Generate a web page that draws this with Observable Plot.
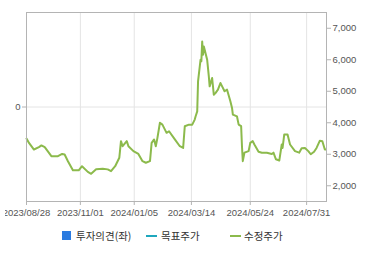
<!DOCTYPE html>
<html><head><meta charset="utf-8">
<script src="https://cdn.jsdelivr.net/npm/d3@7"></script>
<script src="https://cdn.jsdelivr.net/npm/@observablehq/plot@0.6"></script>
<style>
body{margin:0;background:#fff;}
#wrap{position:relative;width:370px;height:255px;overflow:hidden;}
#chart{position:absolute;left:0;top:0;}
#clip{position:absolute;left:0;top:204px;width:5px;height:16px;background:#fff;}
#legend{position:absolute;left:0;top:227px;width:370px;height:18px;font-family:"Noto Sans CJK KR","Noto Sans",sans-serif;font-size:10.5px;color:#333;}
.item{position:absolute;top:0;height:18px;line-height:18px;white-space:nowrap;}
.sw{position:absolute;}
</style></head>
<body><div id="wrap"><div id="chart"></div><div id="clip"></div><div id="legend"></div></div>
<script>
const dates = ["2023-08-28","2023-08-31","2023-09-06","2023-09-12","2023-09-15","2023-09-19","2023-09-25","2023-09-27","2023-10-05","2023-10-10","2023-10-13","2023-10-17","2023-10-23","2023-10-30","2023-11-03","2023-11-10","2023-11-14","2023-11-20","2023-11-28","2023-12-04","2023-12-08","2023-12-13","2023-12-18","2023-12-20","2023-12-22","2023-12-27","2023-12-29","2024-01-04","2024-01-10","2024-01-15","2024-01-19","2024-01-24","2024-01-26","2024-01-29","2024-01-31","2024-02-02","2024-02-05","2024-02-08","2024-02-13","2024-02-16","2024-02-23","2024-02-29","2024-03-04","2024-03-06","2024-03-11","2024-03-15","2024-03-18","2024-03-19","2024-03-21","2024-03-22","2024-03-25","2024-03-26","2024-03-27","2024-03-28","2024-03-29","2024-04-02","2024-04-04","2024-04-05","2024-04-08","2024-04-10","2024-04-12","2024-04-15","2024-04-18","2024-04-19","2024-04-23","2024-04-26","2024-04-30","2024-05-02","2024-05-03","2024-05-08","2024-05-10","2024-05-13","2024-05-14","2024-05-15","2024-05-17","2024-05-22","2024-05-24","2024-05-27","2024-05-29","2024-06-03","2024-06-07","2024-06-13","2024-06-19","2024-06-21","2024-06-24","2024-06-28","2024-07-01","2024-07-02","2024-07-04","2024-07-08","2024-07-11","2024-07-17","2024-07-22","2024-07-25","2024-07-29","2024-08-02","2024-08-05","2024-08-09","2024-08-12","2024-08-16","2024-08-19","2024-08-22","2024-08-23"];
const prices = [3500,3360,3150,3225,3280,3225,3010,2940,2940,3010,2990,2780,2490,2490,2620,2440,2380,2520,2540,2520,2465,2620,2890,3415,3255,3415,3255,3100,3010,2780,2730,2780,3360,3470,3255,3520,4000,3940,3680,3730,3470,3255,3200,3890,3940,3940,4100,4200,4360,5310,6000,5950,6580,6160,6420,6000,5470,5155,5420,4890,4940,5050,5260,5210,5000,5050,4680,4470,4260,4200,3940,3890,3255,2780,3050,3100,3360,3415,3310,3080,3050,3050,3010,3050,2840,2800,3310,3200,3625,3625,3310,3100,3050,3190,3200,3100,3000,3080,3200,3430,3415,3150,3150];
const xTickDates = ["2023-08-28","2023-11-01","2024-01-05","2024-03-14","2024-05-24","2024-07-31"];
const rightTicks = [2000,3000,4000,5000,6000,7000];
const leftTicks = [0];
const leftDomain = [-1, 1];
const rightDomain = [1500, 7500];
const legendLabels = ["투자의견(좌)","목표주가","수정주가"];

const parse = d3.utcParse("%Y-%m-%d");
const data = dates.map((d,i)=>({date:parse(d), price:prices[i]}));
const xt = xTickDates.map(parse);
const leftToRight = d3.scaleLinear().domain(leftDomain).range(rightDomain);
const fmtDate = d3.utcFormat("%Y/%m/%d");

const chart = Plot.plot({
  width:370, height:222,
  marginTop:12, marginBottom:21, marginLeft:26, marginRight:44,
  style:{fontFamily:"'Liberation Sans',Arial,sans-serif", fontSize:"9.5px", color:"#555", background:"#fff"},
  x:{type:"utc", domain:[parse("2023-08-28"), parse("2024-08-24")]},
  y:{domain:rightDomain},
  marks:[
    Plot.ruleX(xt, {stroke:"#e4e4e4"}),
    Plot.ruleY(leftTicks.map(v=>leftToRight(v)), {stroke:"#e4e4e4"}),
    Plot.line(data, {x:"date", y:"price", stroke:"#8cba4c", strokeWidth:2}),
    Plot.frame({stroke:"#b4b4b4"}),
    Plot.axisX({ticks:xt, tickFormat:fmtDate, tickSize:4, tickPadding:4, stroke:"#b4b4b4", label:null, fill:"#555"}),
    Plot.axisY({anchor:"right", ticks:rightTicks, tickFormat:d3.format(","), tickSize:4, tickPadding:2, label:null, stroke:"#b4b4b4", fill:"#555"}),
    Plot.axisY({anchor:"left", ticks:leftTicks.map(v=>leftToRight(v)), tickFormat:(v)=>String(Math.round(leftToRight.invert(v))), tickSize:4, tickPadding:2, label:null, stroke:"#b4b4b4", fill:"#555"})
  ]
});
document.getElementById("chart").appendChild(chart);

const legend = document.getElementById("legend");
const items = [
  {left:62, type:"square", color:"#2b7be0", textLeft:76},
  {left:146, type:"line", color:"#1ea7bd", textLeft:161},
  {left:230, type:"line", color:"#8cba4c", textLeft:244}
];
items.forEach((it,i)=>{
  const sw = document.createElement("div");
  sw.className="sw";
  if(it.type==="square"){ sw.style.cssText=`left:${it.left}px;top:4px;width:9px;height:9px;background:${it.color};`; }
  else { sw.style.cssText=`left:${it.left}px;top:8px;width:11px;height:2px;background:${it.color};`; }
  legend.appendChild(sw);
  const t = document.createElement("div");
  t.className="item"; t.style.left=it.textLeft+"px"; t.textContent=legendLabels[i];
  legend.appendChild(t);
});
</script></body></html>
